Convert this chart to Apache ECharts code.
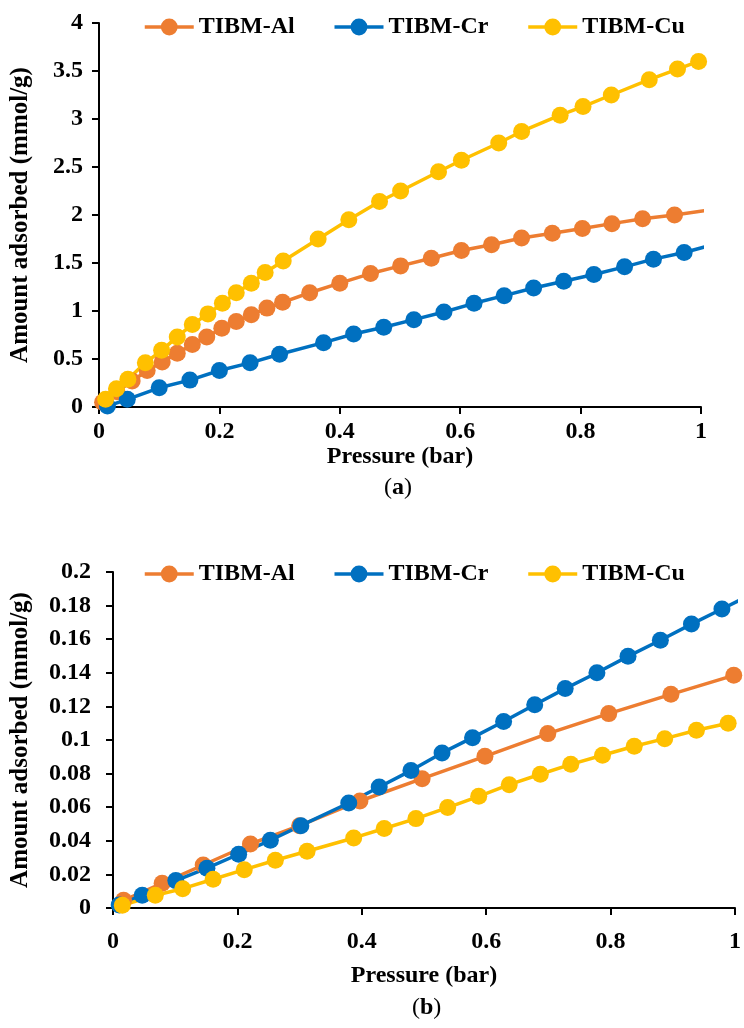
<!DOCTYPE html>
<html>
<head>
<meta charset="utf-8">
<script src="https://cdn.jsdelivr.net/npm/echarts@6/dist/echarts.min.js"></script>
<style>
  html, body { margin: 0; padding: 0; background: #fff; }
  #chart { width: 744px; height: 1028px; }
</style>
</head>
<body>
<div id="chart"></div>
<script>
// series names and colours
const names = ['TIBM-Al', 'TIBM-Cr', 'TIBM-Cu'];
const colors = ['#ED7D31', '#0070C0', '#FFC000'];

// (a) pressure (bar) / amount adsorbed (mmol/g)
const alA_p = [0.006, 0.03, 0.055, 0.08, 0.105, 0.13, 0.155, 0.179, 0.204, 0.228, 0.253, 0.279, 0.305, 0.35, 0.40, 0.451, 0.501, 0.552, 0.602, 0.652, 0.702, 0.753, 0.803, 0.852, 0.903, 0.956, 1.01];
const alA_v = [0.05, 0.16, 0.27, 0.38, 0.47, 0.56, 0.65, 0.73, 0.82, 0.89, 0.96, 1.03, 1.09, 1.19, 1.29, 1.39, 1.47, 1.55, 1.63, 1.69, 1.76, 1.81, 1.86, 1.91, 1.96, 2.00, 2.05];
const crA_p = [0.014, 0.047, 0.10, 0.151, 0.20, 0.251, 0.30, 0.373, 0.423, 0.473, 0.523, 0.573, 0.623, 0.673, 0.722, 0.772, 0.822, 0.873, 0.921, 0.972, 1.02];
const crA_v = [0.01, 0.08, 0.20, 0.28, 0.38, 0.46, 0.55, 0.67, 0.76, 0.83, 0.91, 0.99, 1.08, 1.16, 1.24, 1.31, 1.38, 1.46, 1.54, 1.61, 1.69];
const cuA_p = [0.011, 0.029, 0.048, 0.077, 0.104, 0.13, 0.155, 0.181, 0.205, 0.228, 0.253, 0.276, 0.306, 0.364, 0.415, 0.466, 0.501, 0.564, 0.602, 0.664, 0.702, 0.766, 0.804, 0.851, 0.914, 0.961, 0.996];
const cuA_v = [0.08, 0.19, 0.29, 0.46, 0.59, 0.73, 0.86, 0.97, 1.08, 1.19, 1.29, 1.40, 1.52, 1.75, 1.95, 2.14, 2.25, 2.45, 2.57, 2.75, 2.87, 3.04, 3.13, 3.25, 3.41, 3.52, 3.60];

// (b)
const alB_p = [0.017, 0.079, 0.145, 0.221, 0.30, 0.397, 0.497, 0.598, 0.699, 0.797, 0.897, 0.998];
const alB_v = [0.0046, 0.0147, 0.0256, 0.0381, 0.049, 0.0637, 0.077, 0.0903, 0.1038, 0.1157, 0.1272, 0.1385];
const crB_p = [0.01, 0.047, 0.101, 0.151, 0.202, 0.253, 0.302, 0.379, 0.428, 0.479, 0.529, 0.578, 0.628, 0.678, 0.727, 0.778, 0.828, 0.880, 0.930, 0.979, 1.01];
const crB_v = [0.0018, 0.0076, 0.0163, 0.0237, 0.032, 0.0403, 0.049, 0.0625, 0.072, 0.0818, 0.0923, 0.1014, 0.111, 0.121, 0.1306, 0.140, 0.1498, 0.1594, 0.169, 0.178, 0.1837];
const cuB_p = [0.015, 0.068, 0.112, 0.161, 0.211, 0.261, 0.312, 0.387, 0.436, 0.487, 0.538, 0.588, 0.637, 0.687, 0.736, 0.787, 0.838, 0.887, 0.938, 0.989];
const cuB_v = [0.0016, 0.0076, 0.0115, 0.0171, 0.0228, 0.0284, 0.0338, 0.0417, 0.0473, 0.0532, 0.0598, 0.0665, 0.0734, 0.0796, 0.0855, 0.0909, 0.0963, 0.1008, 0.1058, 0.110];

const font = '"Liberation Serif", "Times New Roman", serif';
const axisTitle = 'Amount adsorbed (mmol/g)';
const xTitle = 'Pressure (bar)';

function zip(xs, ys) {
    return xs.map((x, i) => [x, ys[i]]);
}

function makeSeries(data, idx, axisIdx) {
    return {
        name: names[idx],
        type: 'line',
        xAxisIndex: axisIdx,
        yAxisIndex: axisIdx,
        data: data,
        symbol: 'circle',
        symbolSize: 17,
        clip: true,
        lineStyle: { width: 3.5, color: colors[idx] },
        itemStyle: { color: colors[idx] },
        animation: false
    };
}

function labelStyle(margin) {
    return {
        color: '#000', fontFamily: font, fontWeight: 'bold', fontSize: 24, margin: margin,
        formatter: v => String(+v.toFixed(3))
    };
}

function valueAxis(gridIndex, min, max, interval, extra) {
    return Object.assign({
        type: 'value',
        gridIndex: gridIndex,
        min: min,
        max: max,
        interval: interval,
        splitLine: { show: false },
        axisLine: { show: true, onZero: false, lineStyle: { color: '#000', width: 2 } },
        axisTick: { show: true, inside: false, length: 7, lineStyle: { color: '#000', width: 2 } },
        nameTextStyle: { color: '#000', fontFamily: font, fontWeight: 'bold', fontSize: 24 }
    }, extra);
}

const yNameStyle = { color: '#000', fontFamily: font, fontWeight: 'bold', fontSize: 25 };

const legendBase = {
    data: names,
    itemWidth: 49,
    itemHeight: 21,
    itemGap: 38,
    left: 143,
    padding: 0,
    lineStyle: { width: 3.5 },
    textStyle: { color: '#000', fontFamily: font, fontWeight: 'bold', fontSize: 24 }
};

const chart = echarts.init(document.getElementById('chart'), null, { renderer: 'canvas' });

chart.setOption({
    backgroundColor: '#fff',
    animation: false,
    legend: [
        Object.assign({ top: 15 }, legendBase),
        Object.assign({ top: 562 }, legendBase)
    ],
    grid: [
        { left: 96, right: 43, top: 23, height: 384 },
        { left: 112, right: 7, top: 572, height: 336 }
    ],
    xAxis: [
        valueAxis(0, 0, 1, 0.2, {
            name: xTitle, nameLocation: 'middle', nameGap: 38,
            axisLabel: labelStyle(13)
        }),
        valueAxis(1, 0, 1, 0.2, {
            name: xTitle, nameLocation: 'middle', nameGap: 56,
            axisLabel: labelStyle(22)
        })
    ],
    yAxis: [
        valueAxis(0, 0, 4, 0.5, {
            name: axisTitle, nameLocation: 'middle', nameGap: 66, nameRotate: 90,
            nameTextStyle: yNameStyle,
            axisLabel: labelStyle(16)
        }),
        valueAxis(1, 0, 0.2, 0.02, {
            name: axisTitle, nameLocation: 'middle', nameGap: 80, nameRotate: 90,
            nameTextStyle: yNameStyle,
            axisLabel: labelStyle(22)
        })
    ],
    graphic: [
        {
            type: 'text', left: 384, top: 476,
            style: { rich: { p: { fontFamily: font, fontSize: 24, fill: '#000' }, b: { fontFamily: font, fontSize: 24, fontWeight: 'bold', fill: '#000' } }, text: '{p|(}{b|a}{p|)}' }
        },
        {
            type: 'text', left: 412, top: 996,
            style: { rich: { p: { fontFamily: font, fontSize: 24, fill: '#000' }, b: { fontFamily: font, fontSize: 24, fontWeight: 'bold', fill: '#000' } }, text: '{p|(}{b|b}{p|)}' }
        }
    ],
    series: [
        makeSeries(zip(alA_p, alA_v), 0, 0),
        makeSeries(zip(crA_p, crA_v), 1, 0),
        makeSeries(zip(cuA_p, cuA_v), 2, 0),
        makeSeries(zip(alB_p, alB_v), 0, 1),
        makeSeries(zip(crB_p, crB_v), 1, 1),
        makeSeries(zip(cuB_p, cuB_v), 2, 1)
    ]
});
</script>
</body>
</html>
